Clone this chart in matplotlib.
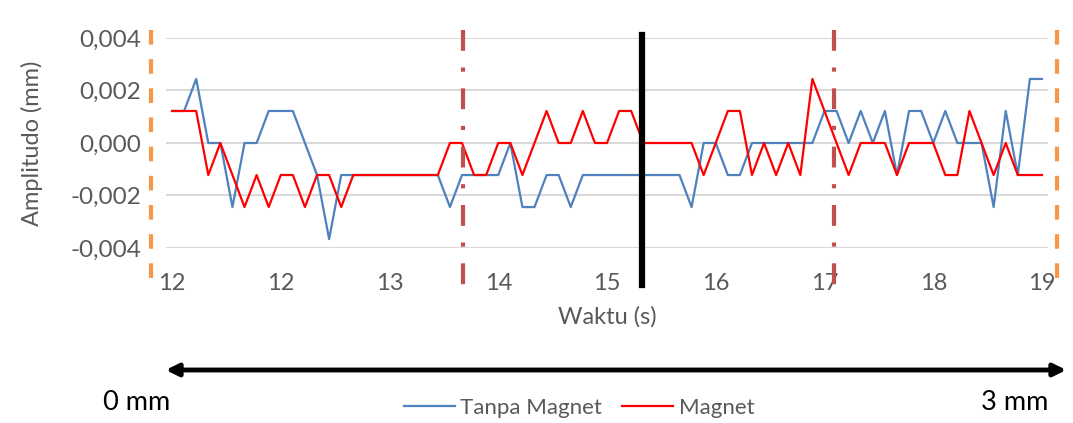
import numpy as np
import matplotlib.pyplot as plt
from matplotlib import transforms
from matplotlib.patches import FancyArrowPatch
from matplotlib.lines import Line2D

plt.rcParams['font.family'] = ['Lato', 'DejaVu Sans']

# amplitude in steps of one resolution unit (mm)
step = 0.00122
tanpa_magnet = [1, 1, 2, 0, 0, -2, 0, 0, 1, 1, 1, 0, -1, -3, -1, -1, -1, -1, -1, -1,
                -1, -1, -1, -2, -1, -1, -1, -1, 0, -2, -2, -1, -1, -2, -1, -1, -1, -1, -1, -1,
                -1, -1, -1, -2, 0, 0, -1, -1, 0, 0, 0, 0, 0, 0, 1, 1, 0, 1, 0, 1,
                -1, 1, 1, 0, 1, 0, 0, 0, -2, 1, -1, 2, 2]
magnet = [1, 1, 1, -1, 0, -1, -2, -1, -2, -1, -1, -2, -1, -1, -2, -1, -1, -1, -1, -1,
          -1, -1, -1, 0, 0, -1, -1, 0, 0, -1, 0, 1, 0, 0, 1, 0, 0, 1, 1, 0,
          0, 0, 0, 0, -1, 0, 1, 1, -1, 0, -1, 0, -1, 2, 1, 0, -1, 0, 0, 0,
          -1, 0, 0, 0, -1, -1, 1, 0, -1, 0, -1, -1, -1]
tick_pos = [0, 9, 18, 27, 36, 45, 54, 63, 72]
tick_labels = ['12', '12', '13', '14', '15', '16', '17', '18', '19']
y_ticks = [-0.004, -0.002, 0.0, 0.002, 0.004]

# annotation markers (sample index)
orange_marks = [-1.74, 73.25]
dashdot_marks = [24.1, 54.8]
black_mark = 38.9

W, H = 1073, 423
fig = plt.figure(figsize=(W / 100, H / 100), dpi=100)
ax = fig.add_axes([166 / W, 1 - 248 / H, 882 / W, 210 / H])

x = np.arange(len(tanpa_magnet))
ax.plot(x, np.array(tanpa_magnet) * step, color='#4F81BD', lw=1.6, label='Tanpa Magnet')
ax.plot(x, np.array(magnet) * step, color='#FF0000', lw=1.6, label='Magnet')

ax.set_xlim(-0.5, len(x) - 0.5)
ax.set_ylim(-0.004, 0.004)
ax.set_yticks(y_ticks)
ax.set_yticklabels([f'{v:.3f}'.replace('.', ',') for v in y_ticks])
ax.set_xticks(tick_pos)
ax.set_xticklabels(tick_labels)
ax.grid(axis='y', color='#D9D9D9', lw=1.5)
ax.set_axisbelow(True)
for s in ax.spines.values():
    s.set_visible(False)
ax.tick_params(axis='both', length=0, colors='#595959')
ax.tick_params(axis='x', pad=18, labelsize=17)
ax.tick_params(axis='y', pad=18, labelsize=17.5)
ax.set_ylabel('Amplitudo (mm)', fontsize=17, color='#595959', va='center')
ax.yaxis.set_label_coords(-134 / 882, 0.5)
ax.set_xlabel('Waktu (s)', fontsize=17, color='#595959', labelpad=9)

tr = transforms.blended_transform_factory(ax.transData, fig.transFigure)
for xm in orange_marks:
    fig.add_artist(Line2D([xm, xm], [1 - 30 / H, 1 - 287 / H], transform=tr,
                          color='#F79646', lw=3, dashes=(3.5, 3.5)))
for xm in dashdot_marks:
    fig.add_artist(Line2D([xm, xm], [1 - 30 / H, 1 - 289 / H], transform=tr,
                          color='#C0504D', lw=3, dashes=(5, 4, 1, 4)))
fig.add_artist(Line2D([black_mark, black_mark], [1 - 35 / H, 1 - 285 / H], transform=tr,
                      color='black', lw=4.5))

fig.add_artist(FancyArrowPatch((163 / W, 1 - 370 / H), (1069 / W, 1 - 370 / H),
                               transform=fig.transFigure, arrowstyle='<|-|>',
                               mutation_scale=18, lw=3.5, color='black'))
fig.text(137 / W, 1 - 402 / H, '0 mm', fontsize=19.5, ha='center', va='center')
fig.text(1015 / W, 1 - 402 / H, '3 mm', fontsize=19.5, ha='center', va='center')

leg = fig.legend(loc='center', bbox_to_anchor=(579 / W, 1 - 408 / H), ncol=2, frameon=False,
                 fontsize=16, handlelength=2.3, columnspacing=0.9, handletextpad=0.25)
for t in leg.get_texts():
    t.set_color('#595959')

fig.savefig('out.png', dpi=100)
